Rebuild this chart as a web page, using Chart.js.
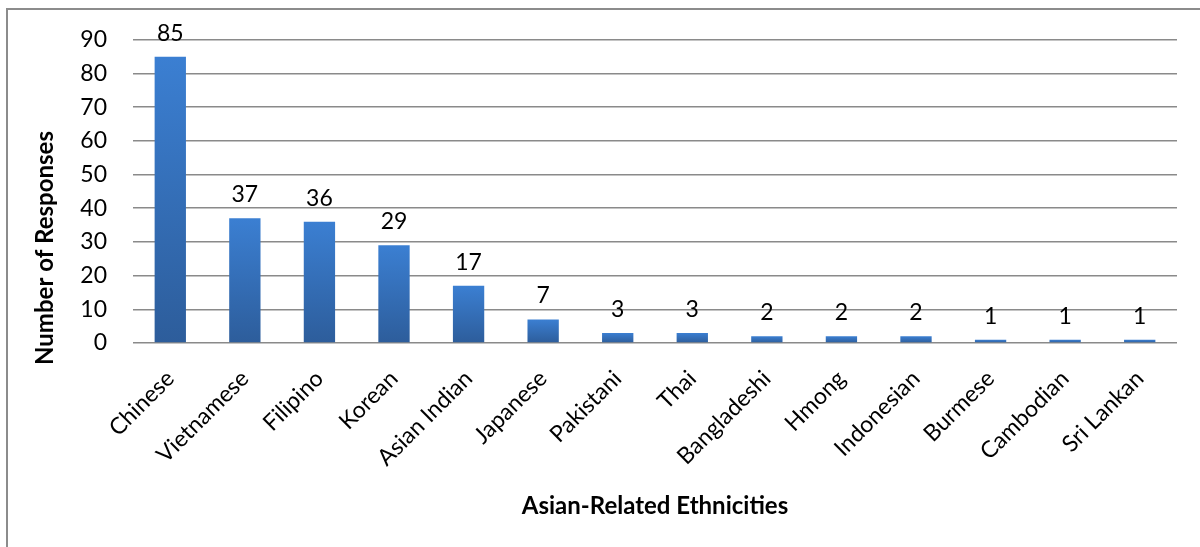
<!DOCTYPE html>
<html>
<head>
<meta charset="utf-8">
<script src="https://cdn.jsdelivr.net/npm/chart.js@4"></script>
<style>
html, body { margin: 0; padding: 0; background: #fff; overflow: hidden; }
</style>
</head>
<body>
<canvas id="ethnicityChart" width="1200" height="547"></canvas>
<script>
const categories = [
    'Chinese', 'Vietnamese', 'Filipino', 'Korean', 'Asian Indian', 'Japanese', 'Pakistani',
    'Thai', 'Bangladeshi', 'Hmong', 'Indonesian', 'Burmese', 'Cambodian', 'Sri Lankan'
];
const responses = [85, 37, 36, 29, 17, 7, 3, 3, 2, 2, 2, 1, 1, 1];
const yTickValues = [0, 10, 20, 30, 40, 50, 60, 70, 80, 90];
const xTitle = 'Asian-Related Ethnicities';
const yTitle = 'Number of Responses';

const FONT = 'Lato, "Open Sans", sans-serif';

// white page with the grey frame line on the left and top
const framePlugin = {
    id: 'frame',
    beforeDraw(chart) {
        const c = chart.ctx;
        c.save();
        c.fillStyle = '#fff';
        c.fillRect(0, 0, chart.width, chart.height);
        c.strokeStyle = '#8c8c8c';
        c.lineWidth = 2;
        c.beginPath();
        c.moveTo(7, chart.height + 5);
        c.lineTo(7, 9);
        c.lineTo(chart.width + 5, 9);
        c.stroke();
        c.restore();
    }
};

// numbers above every bar
const valueLabels = {
    id: 'valueLabels',
    afterDatasetsDraw(chart) {
        const c = chart.ctx;
        const meta = chart.getDatasetMeta(0);
        c.save();
        c.font = '23px ' + FONT;
        c.fillStyle = '#000';
        c.textAlign = 'center';
        c.textBaseline = 'alphabetic';
        meta.data.forEach((bar, i) => {
            c.fillText(String(responses[i]), bar.x, bar.y - 16);
        });
        c.restore();
    }
};

// y title sits lower than the axis centre in the original
const yTitlePlugin = {
    id: 'yTitle',
    afterDraw(chart) {
        const c = chart.ctx;
        c.save();
        c.translate(45, 248);
        c.rotate(-Math.PI / 2);
        c.font = 'bold 24px ' + FONT;
        c.fillStyle = '#000';
        c.textAlign = 'center';
        c.textBaseline = 'middle';
        c.fillText(yTitle, 0, 0);
        c.restore();
    }
};

function barFill(ctx) {
    const chart = ctx.chart;
    const y = chart.scales.y;
    if (!y || ctx.raw == null) return '#3573c1';
    const top = y.getPixelForValue(ctx.raw);
    const base = y.getPixelForValue(0);
    if (!isFinite(top) || !isFinite(base) || base - top < 1) return '#3a78c8';
    const g = chart.ctx.createLinearGradient(0, top, 0, base);
    g.addColorStop(0, '#3b7fd2');
    g.addColorStop(1, '#2d5d9b');
    return g;
}

new Chart(document.getElementById('ethnicityChart'), {
    type: 'bar',
    data: {
        labels: categories,
        datasets: [{
            label: yTitle,
            data: responses,
            backgroundColor: barFill,
            borderWidth: 0,
            barPercentage: 0.42,
            categoryPercentage: 1
        }]
    },
    options: {
        responsive: false,
        animation: false,
        devicePixelRatio: 1,
        layout: { padding: { top: 38, right: 23, left: 0, bottom: 0 } },
        plugins: {
            legend: { display: false },
            tooltip: { enabled: false }
        },
        scales: {
            x: {
                afterFit(scale) { scale.height = 204; },
                grid: { display: false },
                border: { display: false },
                ticks: {
                    autoSkip: false,
                    minRotation: 45,
                    maxRotation: 45,
                    padding: 14,
                    color: '#000',
                    font: { family: FONT, size: 23 }
                },
                title: {
                    display: true,
                    text: xTitle,
                    color: '#000',
                    font: { family: FONT, size: 24, weight: 'bold' },
                    padding: { top: 0, bottom: 26 }
                }
            },
            y: {
                min: 0,
                max: 90,
                afterFit(scale) { scale.width = 133; },
                afterBuildTicks(scale) {
                    scale.ticks = yTickValues.map(v => ({ value: v }));
                },
                grid: { color: '#8a8a8a', lineWidth: 1.5, drawTicks: false },
                border: { display: false },
                ticks: {
                    padding: 26,
                    color: '#000',
                    font: { family: FONT, size: 23 }
                }
            }
        }
    },
    plugins: [framePlugin, valueLabels, yTitlePlugin]
});
</script>
</body>
</html>
